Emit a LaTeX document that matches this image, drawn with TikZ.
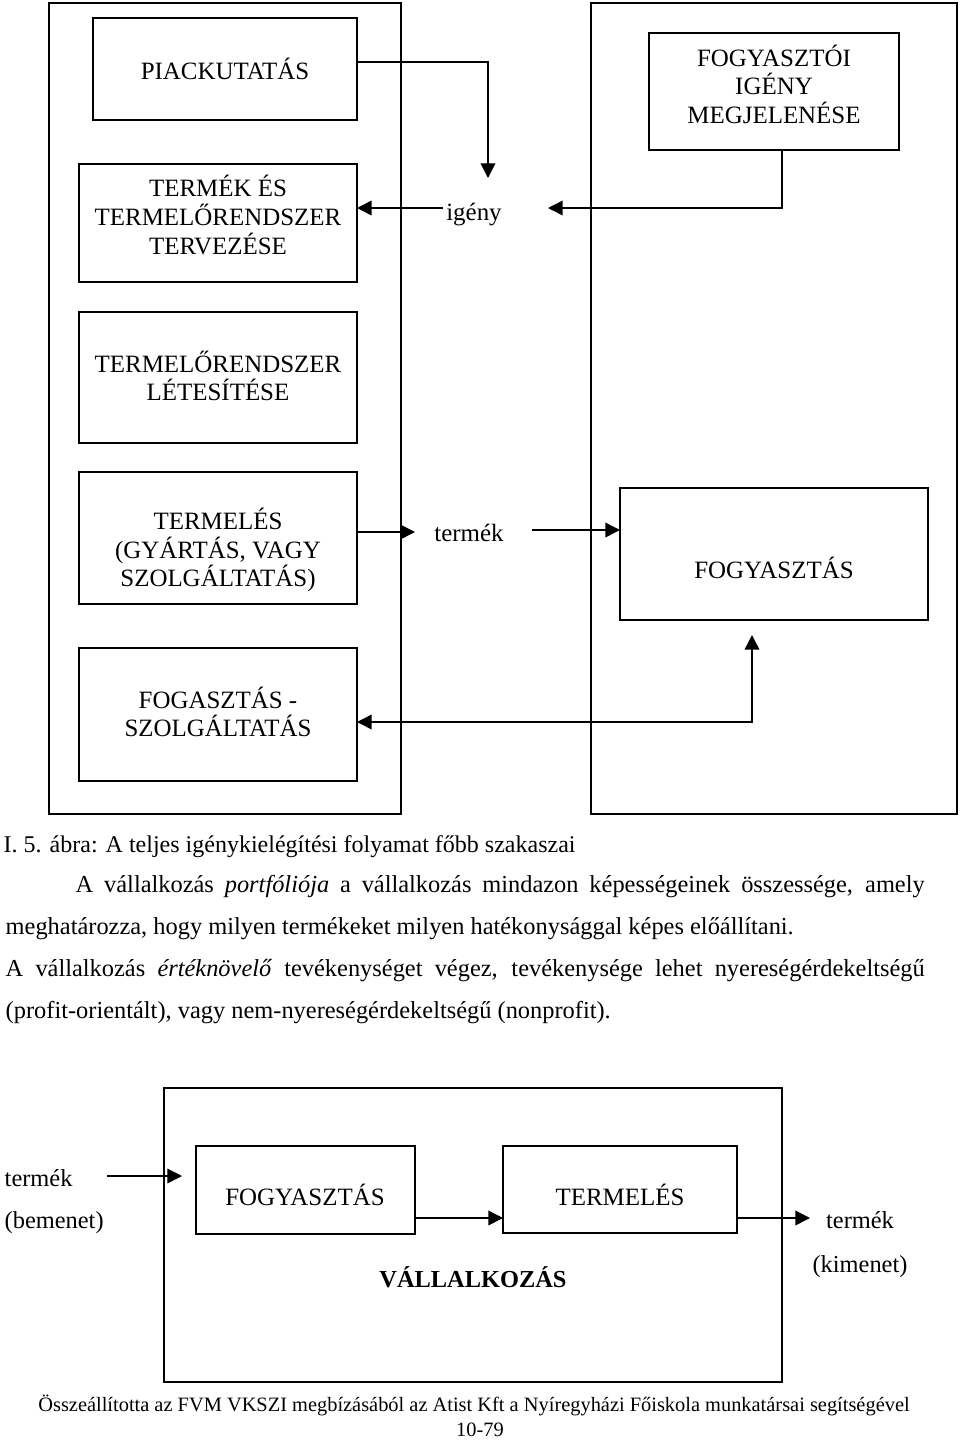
\documentclass[tikz,border=0pt]{standalone}
\usepackage{fontspec}
\setmainfont{Liberation Serif}
\usetikzlibrary{arrows.meta}
\begin{document}
\begin{tikzpicture}[x=0.75pt,y=-0.75pt,
  line width=1.1pt,
  boxfont/.style={font=\fontsize{18.7}{21.4}\selectfont},
  frame/.style={draw,line width=1.1pt},
  box/.style={draw,line width=1.1pt},
  lbl/.style={boxfont,align=center,inner sep=0pt},
  arr/.style={-{Triangle[length=11pt,width=11pt]}},
  darr/.style={{Triangle[length=11pt,width=11pt]}-{Triangle[length=11pt,width=11pt]}},
  txt/.style={font=\fontsize{18.3}{20}\selectfont,inner sep=0pt,anchor=base west},
]
\useasboundingbox (0,0) rectangle (960,1440);

% frames
\draw[frame] (49,3) rectangle (401,814);
\draw[frame] (591,3) rectangle (957,814);

% left column boxes
\draw[box] (93,18) rectangle (357,120);
\node[lbl] (piac) at (225,69) {PIACKUTATÁS};
\coordinate (piacE) at (357,69);

\draw[box] (79,164) rectangle (357,282);
\node[lbl] (tervez) at (218,215) {TERMÉK ÉS\\TERMELŐRENDSZER\\TERVEZÉSE};
\coordinate (tervezE) at (357,223);

\draw[box] (79,312) rectangle (357,443);
\node[lbl] (letes) at (218,376) {TERMELŐRENDSZER\\LÉTESÍTÉSE};

\draw[box] (79,472) rectangle (357,604);
\node[lbl] (termeles) at (218,550) {TERMELÉS\\(GYÁRTÁS, VAGY\\SZOLGÁLTATÁS)};
\coordinate (termelesE) at (357,538);

\draw[box] (79,648) rectangle (357,781);
\node[lbl] (szolg) at (218,712) {FOGASZTÁS -\\SZOLGÁLTATÁS};
\coordinate (szolgE) at (357,714);

% right column boxes
\draw[box] (649,33) rectangle (899,150);
\node[lbl] (fogyig) at (774,84) {FOGYASZTÓI\\IGÉNY\\MEGJELENÉSE};
\coordinate (fogyigS) at (774,150);

\draw[box] (620,488) rectangle (928,620);
\node[lbl] (fogy) at (774,568) {FOGYASZTÁS};
\coordinate (fogyW) at (620,554);
\coordinate (fogyS) at (774,620);

% middle labels
\node[boxfont,inner sep=0pt,anchor=base] (igeny) at (474,220) {igény};
\node[boxfont,inner sep=0pt,anchor=base] (termek) at (469,541) {termék};

% connectors
\coordinate (c1) at (488,62);
\coordinate (c1t) at (488,178);
\draw[arr] (piacE |- c1) -- (c1) -- (c1t);

\coordinate (i0) at (443,208);
\draw[arr] (i0) -- (tervezE |- i0);

\coordinate (c2) at (782,208);
\coordinate (c2t) at (548,208);
\draw[arr] (fogyigS -| c2) -- (c2) -- (c2t);

\coordinate (t1) at (415,532);
\draw[arr] (termelesE |- t1) -- (t1);
\coordinate (t2) at (532,530);
\draw[arr] (t2) -- (fogyW |- t2);

\coordinate (c3) at (752,722);
\coordinate (c3t) at (752,635);
\draw[darr] (c3t) -- (c3) -- (szolgE |- c3);

% caption and paragraph
\node[txt,font=\fontsize{18}{20}\selectfont] (cap) at (3,852) {I. 5. ábra: A teljes igénykielégítési folyamat főbb szakaszai};
\node[txt] (p1) at (75,892) {\makebox[636.75pt][s]{A vállalkozás \textit{portfóliója} a vállalkozás mindazon képességeinek összessége, amely}};
\node[txt] (p2) at (5,934) {meghatározza, hogy milyen termékeket milyen hatékonysággal képes előállítani.};
\node[txt] (p3) at (5,976) {\makebox[689.25pt][s]{A vállalkozás \textit{értéknövelő} tevékenységet végez, tevékenysége lehet nyereségérdekeltségű}};
\node[txt] (p4) at (5,1018) {(profit-orientált), vagy nem-nyereségérdekeltségű (nonprofit).};

% bottom diagram
\draw[frame] (164,1088) rectangle (782,1382);
\draw[box] (196,1146) rectangle (415,1234);
\node[boxfont,inner sep=0pt,anchor=base] (bfogy) at (305,1205) {FOGYASZTÁS};
\draw[box] (503,1146) rectangle (737,1233);
\node[boxfont,inner sep=0pt,anchor=base] (bterm) at (620,1205) {TERMELÉS};
\coordinate (bfogyE) at (415,1218);
\coordinate (btermW) at (503,1218);
\coordinate (btermE) at (737,1218);

\node[inner sep=0pt,anchor=base,font=\fontsize{18.3}{20}\bfseries] (vall) at (473,1287) {VÁLLALKOZÁS};

\node[txt] (bin1) at (4,1186) {termék};
\node[txt] (bin2) at (4,1228) {(bemenet)};
\node[txt,anchor=base] (bout1) at (860,1228) {termék};
\node[txt,anchor=base] (bout2) at (860,1272) {(kimenet)};

\coordinate (b0) at (107,1176);
\coordinate (b0t) at (182,1176);
\draw[arr] (b0) -- (b0t);
\draw[arr] (bfogyE) -- (btermW);
\coordinate (b2) at (810,1218);
\draw[arr] (btermE) -- (b2);

% footer
\node[txt,anchor=base,font=\fontsize{15.3}{18}\selectfont] (foot) at (474,1411) {Összeállította az FVM VKSZI megbízásából az Atist Kft a Nyíregyházi Főiskola munkatársai segítségével};
\node[txt,anchor=base,font=\fontsize{15.3}{18}\selectfont] (page) at (480,1436) {10-79};
\end{tikzpicture}
\end{document}
